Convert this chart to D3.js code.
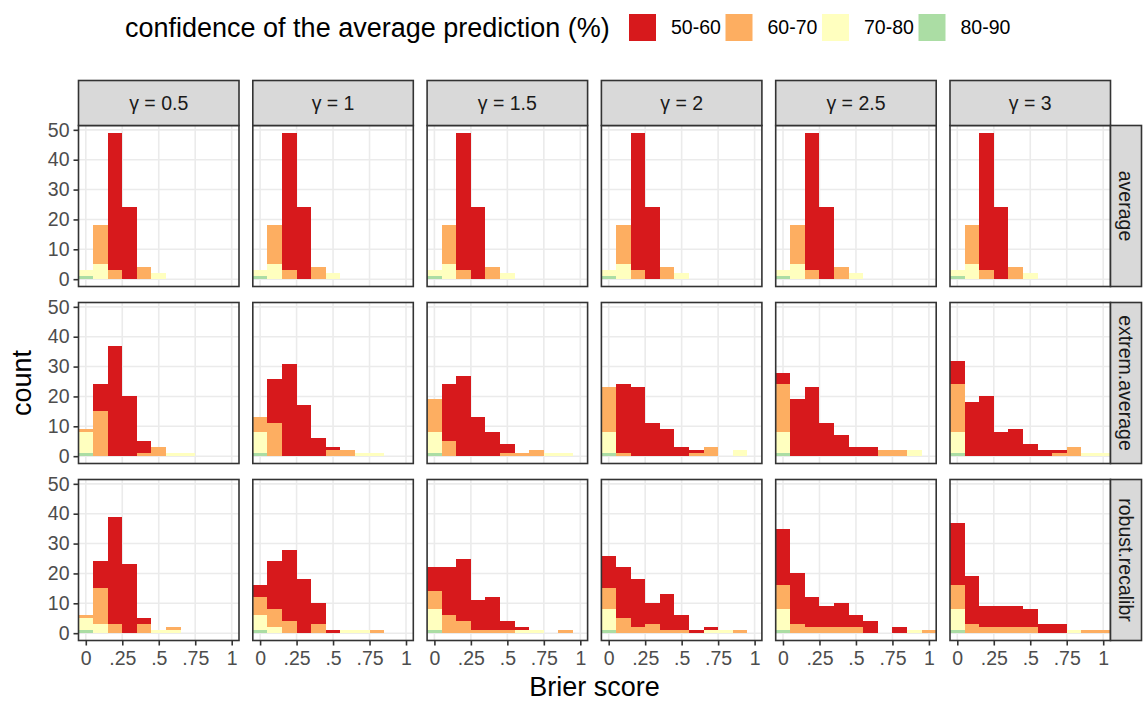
<!DOCTYPE html>
<html><head><meta charset="utf-8">
<script src="https://cdn.jsdelivr.net/npm/d3@7"></script>
<style>
html,body{margin:0;padding:0;background:#fff;}
svg{display:block;font-family:"Liberation Sans",Arial,Helvetica,sans-serif;}
</style></head>
<body>
<svg id="chart" width="1143" height="702"></svg>
<script>
// ---- data ----
const gammaLabels = ["γ = 0.5","γ = 1","γ = 1.5","γ = 2","γ = 2.5","γ = 3"];
const methodLabels = ["average","extrem.average","robust.recalibr"];
const groups = ["50-60","60-70","70-80","80-90"];
const groupColors = ["#D7191C","#FDAE61","#FFFFBF","#ABDDA4"];
const binCenters = [0,0.1,0.2,0.3,0.4,0.5,0.6,0.7,0.8,0.9,1.0];
const binWidth = 0.1;
const xTickValues = [0,0.25,0.5,0.75,1];
const xTickLabels = ["0",".25",".5",".75","1"];
const yTickValues = [0,10,20,30,40,50];

// counts per bin, rows: 50-60, 60-70, 70-80, 80-90
const average_all = [
  [0,0,46,24,0,0,0,0,0,0,0],
  [0,13,3,0,4,0,0,0,0,0,0],
  [2,5,0,0,0,2,0,0,0,0,0],
  [1,0,0,0,0,0,0,0,0,0,0]];
const extrem_g05 = [
  [0,9,37,20,4,0,0,0,0,0,0],
  [1,15,0,0,1,3,0,0,0,0,0],
  [7,0,0,0,0,0,1,1,0,0,0],
  [1,0,0,0,0,0,0,0,0,0,0]];
const extrem_g1 = [
  [0,15,31,17,6,1,0,0,0,0,0],
  [5,11,0,0,0,2,2,0,0,0,0],
  [7,0,0,0,0,0,0,1,1,0,0],
  [1,0,0,0,0,0,0,0,0,0,0]];
const extrem_g15 = [
  [0,19,27,13,8,3,0,0,0,0,0],
  [11,5,0,0,0,1,1,2,0,0,0],
  [7,0,0,0,0,0,0,0,1,1,0],
  [1,0,0,0,0,0,0,0,0,0,0]];
const extrem_g2 = [
  [0,23,23,11,9,3,1,0,0,0,0],
  [15,1,0,0,0,0,1,3,0,0,0],
  [7,0,0,0,0,0,0,0,0,2,0],
  [1,0,0,0,0,0,0,0,0,0,0]];
const extrem_g25 = [
  [4,19,23,11,7,3,3,0,0,0,0],
  [16,0,0,0,0,0,0,2,2,0,0],
  [7,0,0,0,0,0,0,0,0,2,0],
  [1,0,0,0,0,0,0,0,0,0,0]];
const extrem_g3 = [
  [8,18,20,8,9,4,2,1,0,0,0],
  [16,0,0,0,0,0,0,1,3,0,0],
  [7,0,0,0,0,0,0,0,0,1,1],
  [1,0,0,0,0,0,0,0,0,0,0]];
const robust_g05 = [
  [0,9,36,23,2,0,0,0,0,0,0],
  [1,12,3,0,3,0,1,0,0,0,0],
  [4,3,0,0,0,1,1,0,0,0,0],
  [1,0,0,0,0,0,0,0,0,0,0]];
const robust_g1 = [
  [4,16,24,18,7,1,0,0,0,0,0],
  [6,6,4,0,3,0,0,0,1,0,0],
  [5,2,0,0,0,0,1,1,0,0,0],
  [1,0,0,0,0,0,0,0,0,0,0]];
const robust_g15 = [
  [8,16,21,10,11,3,1,0,0,0,0],
  [6,6,4,1,1,1,0,0,0,1,0],
  [7,0,0,0,0,0,1,1,0,0,0],
  [1,0,0,0,0,0,0,0,0,0,0]];
const robust_g2 = [
  [11,17,16,7,12,5,1,1,0,0,0],
  [7,5,2,3,1,1,0,0,0,1,0],
  [7,0,0,0,0,0,0,1,1,0,0],
  [1,0,0,0,0,0,0,0,0,0,0]];
const robust_g25 = [
  [19,17,10,7,8,4,4,0,2,0,0],
  [8,3,2,2,2,2,0,0,0,0,1],
  [7,0,0,0,0,0,0,0,0,1,0],
  [1,0,0,0,0,0,0,0,0,0,0]];
const robust_g3 = [
  [21,16,7,7,7,6,3,3,0,0,0],
  [8,3,2,2,2,2,0,0,0,1,1],
  [7,0,0,0,0,0,0,0,1,0,0],
  [1,0,0,0,0,0,0,0,0,0,0]];

const panelData = [
  [average_all,average_all,average_all,average_all,average_all,average_all],
  [extrem_g05,extrem_g1,extrem_g15,extrem_g2,extrem_g25,extrem_g3],
  [robust_g05,robust_g1,robust_g15,robust_g2,robust_g25,robust_g3]];

// ---- layout ----
const svg = d3.select("#chart");
const colLeft0 = 78.5, colStep = 174.3, pw = 160.5;
const rowTop0 = 125.5, rowStep = 177, ph = 161;
const stripTopY = 80.5, stripTopH = 45;
const stripRightW = 31;
const smallFont = "19.5px", bigFont = "27px";

const x = d3.scaleLinear().domain([-0.05,1.05]).range([0,pw]);
const y = d3.scaleLinear().domain([-2.45,51.45]).range([ph,0]);

const defs = svg.append("defs");
defs.append("clipPath").attr("id","pclip").append("rect")
  .attr("x",0).attr("y",0).attr("width",pw).attr("height",ph);

const stackKeys = groups.slice().reverse(); // bottom: 80-90 ... top: 50-60
const color = d3.scaleOrdinal().domain(groups).range(groupColors);

panelData.forEach((row, ri) => {
  row.forEach((mat, ci) => {
    const px = colLeft0 + ci*colStep, py = rowTop0 + ri*rowStep;
    const g = svg.append("g").attr("transform",`translate(${px},${py})`);
    g.append("rect").attr("width",pw).attr("height",ph).attr("fill","#fff");
    // grid
    g.selectAll("line.gx").data(xTickValues).join("line")
      .attr("x1",d=>x(d)).attr("x2",d=>x(d)).attr("y1",0).attr("y2",ph)
      .attr("stroke","#EBEBEB").attr("stroke-width",1.6);
    g.selectAll("line.gy").data(yTickValues).join("line")
      .attr("y1",d=>y(d)).attr("y2",d=>y(d)).attr("x1",0).attr("x2",pw)
      .attr("stroke","#EBEBEB").attr("stroke-width",1.6);
    // bars
    const rows = binCenters.map((c,bi) => {
      const o = {c};
      groups.forEach((grp,gi) => o[grp] = mat[gi][bi]);
      return o;
    });
    const series = d3.stack().keys(stackKeys)(rows);
    const bars = g.append("g").attr("clip-path","url(#pclip)");
    series.forEach(s => {
      bars.selectAll(null).data(s.filter(d => d[1]-d[0] > 0)).join("rect")
        .attr("x",d=>x(d.data.c - binWidth/2))
        .attr("width",d=>x(d.data.c + binWidth/2) - x(d.data.c - binWidth/2))
        .attr("y",d=>y(d[1]))
        .attr("height",d=>y(d[0]) - y(d[1]))
        .attr("fill",color(s.key))
        .attr("shape-rendering","crispEdges");
    });
    // border
    g.append("rect").attr("width",pw).attr("height",ph)
      .attr("fill","none").attr("stroke","#333333").attr("stroke-width",1.6);
    // axes
    if (ci === 0) {
      const ax = g.append("g").call(d3.axisLeft(y).tickValues(yTickValues).tickSize(5).tickPadding(4));
      ax.select(".domain").remove();
      ax.selectAll("line").attr("stroke","#333333").attr("stroke-width",1.6);
      ax.selectAll("text").attr("fill","#4D4D4D").style("font-size",smallFont)
        .style("font-family","Liberation Sans, Arial, sans-serif");
    }
    if (ri === panelData.length-1) {
      const ax = g.append("g").attr("transform",`translate(0,${ph})`)
        .call(d3.axisBottom(x).tickValues(xTickValues).tickFormat((d,i)=>xTickLabels[i]).tickSize(5).tickPadding(6));
      ax.select(".domain").remove();
      ax.selectAll("line").attr("stroke","#333333").attr("stroke-width",1.6);
      ax.selectAll("text").attr("fill","#4D4D4D").style("font-size",smallFont)
        .style("font-family","Liberation Sans, Arial, sans-serif");
    }
    // top strips
    if (ri === 0) {
      const sg = svg.append("g").attr("transform",`translate(${px},${stripTopY})`);
      sg.append("rect").attr("width",pw).attr("height",stripTopH)
        .attr("fill","#D9D9D9").attr("stroke","#333333").attr("stroke-width",1.6);
      sg.append("text").attr("x",pw/2).attr("y",stripTopH/2).attr("dy","0.35em")
        .attr("text-anchor","middle").attr("fill","#1A1A1A").style("font-size",smallFont)
        .text(gammaLabels[ci]);
    }
    // right strips
    if (ci === row.length-1) {
      const sx = px + pw;
      const sg = svg.append("g").attr("transform",`translate(${sx},${py})`);
      sg.append("rect").attr("width",stripRightW).attr("height",ph)
        .attr("fill","#D9D9D9").attr("stroke","#333333").attr("stroke-width",1.6);
      sg.append("text").attr("transform",`translate(${stripRightW/2},${ph/2}) rotate(90)`)
        .attr("dy","0.35em").attr("text-anchor","middle").attr("fill","#1A1A1A")
        .style("font-size",smallFont).text(methodLabels[ri]);
    }
  });
});

// axis titles
const plotLeft = colLeft0, plotRight = colLeft0 + 5*colStep + pw;
svg.append("text").attr("x",(plotLeft+plotRight)/2).attr("y",696)
  .attr("text-anchor","middle").style("font-size",bigFont).attr("fill","#000").text("Brier score");
svg.append("text").attr("transform",`translate(31,${rowTop0 + (2*rowStep+ph)/2}) rotate(-90)`)
  .attr("text-anchor","middle").style("font-size",bigFont).attr("fill","#000").text("count");

// legend
const leg = svg.append("g");
leg.append("text").attr("x",125).attr("y",37).style("font-size",bigFont).attr("fill","#000")
  .text("confidence of the average prediction (%)");
const keyX = [629, 725.5, 822, 918.5];
groups.forEach((grp,i) => {
  leg.append("rect").attr("x",keyX[i]).attr("y",14).attr("width",27).attr("height",27)
    .attr("fill",color(grp));
  leg.append("text").attr("x",keyX[i]+42).attr("y",27.5).attr("dy","0.35em")
    .style("font-size",smallFont).attr("fill","#000").text(grp);
});
</script>
</body></html>
